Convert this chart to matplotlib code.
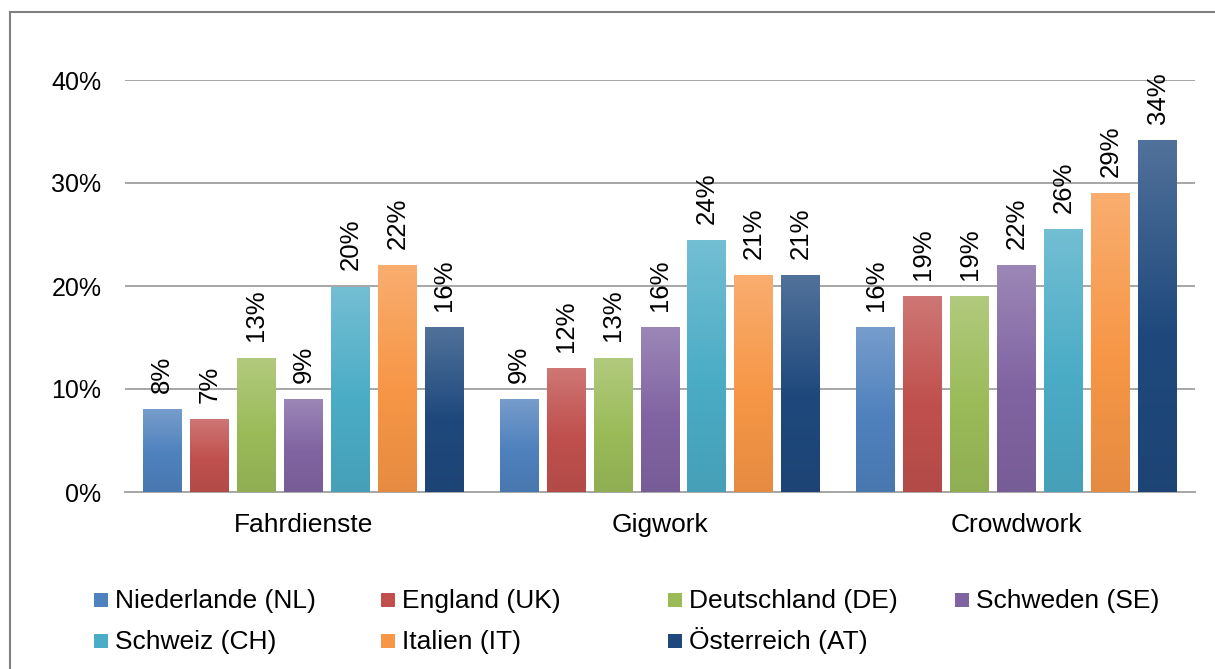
import matplotlib
matplotlib.use("Agg")
import matplotlib.pyplot as plt
import numpy as np
from matplotlib.colors import to_rgb
from matplotlib.patches import Rectangle

# data
categories = ["Fahrdienste", "Gigwork", "Crowdwork"]
countries = [
    "Niederlande (NL)",
    "England (UK)",
    "Deutschland (DE)",
    "Schweden (SE)",
    "Schweiz (CH)",
    "Italien (IT)",
    "Österreich (AT)",
]
values = {
    "Niederlande (NL)": [8, 9, 16],
    "England (UK)": [7, 12, 19],
    "Deutschland (DE)": [13, 13, 19],
    "Schweden (SE)": [9, 16, 22],
    "Schweiz (CH)": [19.9, 24.4, 25.5],
    "Italien (IT)": [22, 21, 29],
    "Österreich (AT)": [16, 21, 34.1],
}
colors = ["#4F81BD", "#C0504D", "#9BBB59", "#8064A2", "#4BACC6", "#F79646", "#1F497D"]
y_ticks = [0, 10, 20, 30, 40]

plt.rcParams["font.family"] = ["Liberation Sans", "DejaVu Sans"]

W, H = 1215, 669
fig = plt.figure(figsize=(W / 100, H / 100), dpi=100)
ax = fig.add_axes([125 / W, 1 - 492 / H, (1195 - 125) / W, (492 - 80) / H])


def gradient_for(color, n=64):
    base = np.array(to_rgb(color))
    top = base + (1 - base) * 0.22
    bottom = base * 0.93
    t = np.linspace(0, 1, n)[:, None]
    upper = top + (base - top) * np.clip(t / 0.55, 0, 1)
    lower = base + (bottom - base) * np.clip((t - 0.55) / 0.45, 0, 1)
    grad = np.where(t < 0.55, upper, lower)
    return grad[:, None, :]


group_x = np.arange(len(categories)) + 0.5
pitch = 47 / 356.7
width = 39 / 356.7
offsets = (np.arange(len(countries)) - (len(countries) - 1) / 2) * pitch

for i, (name, col) in enumerate(zip(countries, colors)):
    bars = ax.bar(group_x + offsets[i], values[name], width=width,
                  color="none", edgecolor="none", zorder=3)
    img = gradient_for(col)
    for b, v in zip(bars, values[name]):
        x0 = b.get_x()
        ax.imshow(img, extent=[x0, x0 + b.get_width(), 0, b.get_height()],
                  aspect="auto", origin="upper", zorder=3, interpolation="bilinear")
        ax.annotate(f"{round(v):.0f}%", (x0 + b.get_width() / 2, b.get_height()),
                    xytext=(0, 12), textcoords="offset points",
                    rotation=90, ha="center", va="bottom",
                    fontsize=18.5, annotation_clip=False, zorder=4)

ax.set_xlim(0, 3)
ax.set_ylim(0, 40)
ax.set_yticks(y_ticks)
ax.set_yticklabels([f"{t}%" for t in y_ticks], fontsize=18)
ax.set_xticks(group_x)
ax.set_xticklabels(categories, fontsize=19)
ax.tick_params(axis="y", length=0, pad=17)
ax.tick_params(axis="x", length=0, pad=15)
ax.grid(axis="y", color="#A6A6A6", linewidth=1.4, zorder=0)
ax.set_axisbelow(True)
for s in ["left", "right", "top"]:
    ax.spines[s].set_visible(False)
ax.spines["bottom"].set_color("#A6A6A6")
ax.spines["bottom"].set_linewidth(1.4)

# legend: 4 columns of 287 px, entries filled row by row
col_x = [94, 381, 668, 955]
row_base = [608, 649]
for k, (name, col) in enumerate(zip(countries, colors)):
    cx = col_x[k % 4]
    by = row_base[k // 4]
    fig.patches.append(Rectangle((cx / W, 1 - (by - 1) / H), 14 / W, 14 / H,
                                 transform=fig.transFigure, facecolor=col,
                                 edgecolor="none"))
    fig.text((cx + 21) / W, 1 - by / H, name, fontsize=19,
             ha="left", va="baseline")

# outer frame
fig.patches.append(Rectangle((10 / W, -0.1), 1.2, 1.1 - 12 / H,
                             transform=fig.transFigure, fill=False,
                             edgecolor="#808080", linewidth=1.5))

fig.savefig("out.png", dpi=100)
